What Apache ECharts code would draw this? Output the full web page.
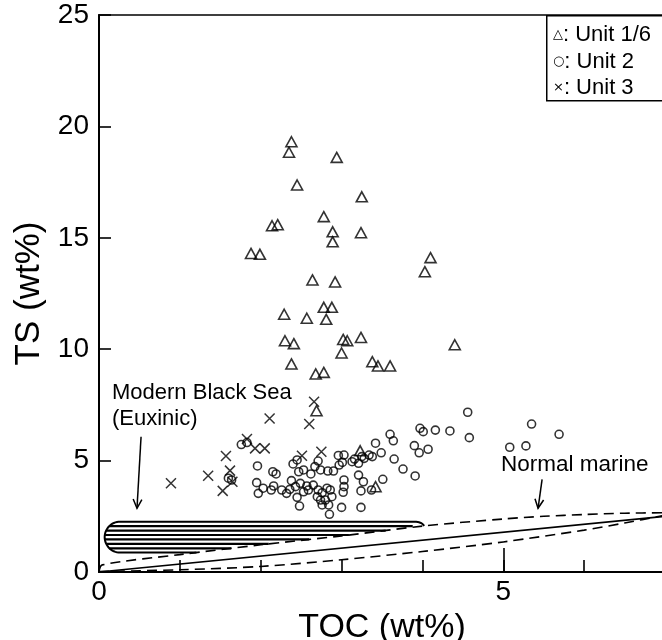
<!DOCTYPE html>
<html><head><meta charset="utf-8">
<script src="https://cdn.jsdelivr.net/npm/echarts@6/dist/echarts.min.js"></script>
<style>html,body{margin:0;padding:0;background:#fff}#c{width:662px;height:640px}</style>
</head><body><div id="c"></div>
<script>
// ---- data (TOC wt%, TS wt%) ----
const unit16 = [[2.38,19.31],[2.35,18.84],[2.94,18.61],[2.45,17.37],[3.25,16.84],[2.78,15.95],[2.14,15.54],[2.21,15.59],[2.89,15.27],[2.89,14.82],[3.24,15.23],[1.88,14.30],[1.99,14.26],[4.10,14.11],[4.03,13.48],[2.64,13.11],[2.92,13.02],[2.78,11.88],[2.88,11.88],[2.29,11.57],[2.57,11.39],[2.81,11.34],[2.30,10.38],[2.41,10.25],[3.02,10.44],[3.07,10.38],[3.24,10.53],[4.40,10.20],[3.00,9.83],[2.38,9.34],[3.38,9.44],[3.45,9.25],[3.60,9.25],[2.68,8.89],[2.78,8.96],[2.69,7.24],[3.23,5.44],[3.42,3.83]];
const unit2 = [[1.60,4.21],[1.64,4.13],[1.76,5.72],[1.83,5.81],[1.96,4.76],[2.15,4.50],[2.19,4.40],[1.95,4.01],[1.97,3.53],[2.03,3.76],[2.13,3.68],[2.16,3.86],[2.26,3.68],[2.32,3.53],[2.36,3.71],[2.38,4.10],[2.43,3.83],[2.45,3.35],[2.40,4.85],[2.45,5.03],[2.47,4.50],[2.53,4.58],[2.62,4.40],[2.67,4.73],[2.71,4.98],[2.74,4.58],[2.83,4.53],[2.90,4.53],[2.96,5.23],[3.01,4.92],[3.03,4.13],[2.49,3.98],[2.57,3.86],[2.59,3.68],[2.65,3.90],[2.71,3.68],[2.76,3.56],[2.82,3.76],[2.86,3.68],[2.88,3.38],[2.80,3.23],[2.74,3.23],[2.70,3.38],[2.84,3.01],[2.76,3.01],[2.48,2.96],[3.00,2.90],[3.03,3.83],[2.85,2.59],[3.24,2.90],[3.60,6.18],[3.64,5.89],[3.97,6.45],[4.01,6.30],[4.16,6.37],[4.34,6.33],[4.56,7.17],[4.58,6.03],[5.35,6.64],[5.69,6.18],[5.08,5.60],[5.28,5.66],[3.42,5.78],[3.90,5.67],[3.96,5.35],[4.07,5.51],[3.49,5.35],[3.65,5.07],[3.76,4.62],[3.91,4.31],[3.51,4.16],[3.38,5.18],[3.34,5.25],[3.28,5.10],[3.25,5.18],[3.16,5.07],[3.21,4.88],[3.03,5.25],[3.21,4.35],[3.27,4.05],[3.24,3.64],[3.37,3.68],[3.02,3.58],[3.13,4.95],[2.97,4.80],[2.53,3.60]];
const unit3 = [[0.89,3.98],[1.35,4.32],[1.57,5.21],[1.62,4.55],[1.53,3.64],[1.65,4.05],[1.83,5.97],[1.93,5.55],[2.05,5.55],[2.11,6.89],[2.51,5.22],[2.75,5.40],[2.66,7.64],[2.60,6.64]];
const csLine = [[0,0],[7,2.5]];
const normalMarineUpper = [[0,0.02],[0.04,0.32],[1,0.78],[2,1.22],[3,1.62],[4,2.06],[5,2.38],[5.5,2.5],[6,2.58],[6.5,2.64],[7,2.66]];
const normalMarineLower = [[0,0.02],[1,0.1],[2,0.25],[3,0.55],[4,0.92],[5,1.35],[6,1.88],[6.5,2.2],[7,2.55]];
// Black Sea field: left TOC, top-right TOC, end TOC on dashed line, bottom TS, top TS
const blackSeaField = [[0.07,3.88,4.02,0.87,2.26]];
const blackSeaStripes = [2.06,1.86,1.66,1.46,1.26,1.06];
const arrows = [[0.52,6.07,0.47,2.86],[5.48,4.16,5.43,2.86]];
const xLabels = [0,5];
const legendItems = ['{s|△}: Unit 1/6','{s|○}: Unit 2','{s|×}: Unit 3'];

const FONT = '"Liberation Sans", Arial, Helvetica, sans-serif';
function invUpper(level){
  const a = normalMarineUpper;
  for (let i=0;i<a.length-1;i++){
    if (level>=a[i][1] && level<=a[i+1][1]) return a[i][0] + (level-a[i][1])/(a[i+1][1]-a[i][1])*(a[i+1][0]-a[i][0]);
  }
  return a[a.length-1][0];
}
function upperAt(x){
  const a = normalMarineUpper;
  for (let i=0;i<a.length-1;i++){
    if (x>=a[i][0] && x<=a[i+1][0]) return a[i][1] + (x-a[i][0])/(a[i+1][0]-a[i][0])*(a[i+1][1]-a[i][1]);
  }
  return a[a.length-1][1];
}
function renderBlackSea(params, api){
  const left=api.value(0), rTop=api.value(1), xEnd=api.value(2), bot=api.value(3), top=api.value(4);
  const pT = api.coord([left, top]), pB = api.coord([left, bot]);
  const r = (pB[1]-pT[1])/2;
  const cx = pT[0] + r, cy = (pT[1]+pB[1])/2;
  const pts = [];
  pts.push(api.coord([invUpper(bot), bot]));
  for (let i=0;i<=30;i++){ const a = Math.PI/2 + Math.PI*i/30; pts.push([cx + r*Math.cos(a), cy + r*Math.sin(a)]); }
  const p1 = api.coord([rTop, top]);
  pts.push(p1);
  const p2 = api.coord([xEnd, upperAt(xEnd)]);
  const c = [p2[0]-2, p1[1]];
  for (let i=1;i<=10;i++){ const t=i/10; pts.push([(1-t)*(1-t)*p1[0]+2*(1-t)*t*c[0]+t*t*p2[0], (1-t)*(1-t)*p1[1]+2*(1-t)*t*c[1]+t*t*p2[1]]); }
  const children = [{type:'polyline', shape:{points:pts}, style:{stroke:'#000', lineWidth:2, fill:null}}];
  blackSeaStripes.forEach(L=>{
    const y = api.coord([0, L])[1];
    const dy = y - cy;
    const xs = cx - Math.sqrt(Math.max(0, r*r - dy*dy));
    const xe = Math.min(api.coord([invUpper(L), L])[0], p1[0]);
    children.push({type:'line', shape:{x1:xs, y1:y, x2:xe, y2:y}, style:{stroke:'#000', lineWidth:2.2}});
  });
  return {type:'group', children};
}
function renderArrow(params, api){
  const a = api.coord([api.value(0), api.value(1)]);
  const b = api.coord([api.value(2), api.value(3)]);
  const ang = Math.atan2(b[1]-a[1], b[0]-a[0]);
  const L = 10, w = 0.45;
  const h1 = [b[0]-L*Math.cos(ang-w), b[1]-L*Math.sin(ang-w)];
  const h2 = [b[0]-L*Math.cos(ang+w), b[1]-L*Math.sin(ang+w)];
  return {type:'group', children:[
    {type:'line', shape:{x1:a[0],y1:a[1],x2:b[0],y2:b[1]}, style:{stroke:'#000', lineWidth:1.5}},
    {type:'polyline', shape:{points:[h1,b,h2]}, style:{stroke:'#000', lineWidth:1.5, fill:null}}
  ]};
}

const chart = echarts.init(document.getElementById('c'), null, {renderer:'canvas'});
const markerStyle = {color:'rgba(0,0,0,0)', borderColor:'#000', borderWidth:1.6};
chart.setOption({
  animation:false,
  backgroundColor:'#fff',
  grid:{left:99, top:15, width:566, height:557, outerBoundsMode:'none', containLabel:false, show:true, borderColor:'#000', borderWidth:1.5, backgroundColor:'transparent'},
  xAxis:[{
    type:'value', min:0, max:7, interval:1,
    name:'TOC (wt%)', nameLocation:'middle', nameGap:29,
    nameTextStyle:{fontSize:34, color:'#000', fontFamily:FONT},
    axisLine:{lineStyle:{color:'#000', width:2}},
    axisTick:{inside:true, length:12, lineStyle:{color:'#000', width:1.6}},
    axisLabel:{fontSize:28, color:'#000', fontFamily:FONT, margin:6, formatter:v=> xLabels.includes(v)? String(v):''},
    splitLine:{show:false}
  },{
    type:'value', min:0, max:7, interval:5, position:'bottom',
    axisLine:{show:false}, axisLabel:{show:false}, splitLine:{show:false},
    axisTick:{inside:true, length:24, lineStyle:{color:'#000', width:1.6}}
  }],
  yAxis:{
    type:'value', min:0, max:25, interval:5,
    name:'TS (wt%)', nameLocation:'middle', nameGap:51,
    nameTextStyle:{fontSize:35, color:'#000', fontFamily:FONT},
    axisLine:{lineStyle:{color:'#000', width:2}},
    axisTick:{inside:true, length:12, lineStyle:{color:'#000', width:1.6}},
    axisLabel:{fontSize:28, color:'#000', fontFamily:FONT, margin:10, padding:[8,0,0,0]},
    splitLine:{show:false}
  },
  graphic:[
    {type:'rect', left:546, top:15, shape:{width:130, height:85}, style:{fill:'#fff', stroke:'#000', lineWidth:1.5}, z:100},
    ...legendItems.map((t,i)=>({type:'text', x:553, y:35+i*26.5, z:101,
      style:{text:t, font:'22px '+FONT, fill:'#000', verticalAlign:'middle',
        rich:{s:{fontSize:13, fontFamily:'"DejaVu Sans", sans-serif', fill:'#000'}}}})),
    {type:'text', x:112, y:393, style:{text:'Modern Black Sea', font:'22px '+FONT, fill:'#000', verticalAlign:'middle'}},
    {type:'text', x:112, y:419, style:{text:'(Euxinic)', font:'22px '+FONT, fill:'#000', verticalAlign:'middle'}},
    {type:'text', x:501, y:465, style:{text:'Normal marine', font:'22.5px '+FONT, fill:'#000', verticalAlign:'middle'}}
  ],
  series:[
    {type:'custom', name:'Black Sea', coordinateSystem:'cartesian2d', renderItem:renderBlackSea, data:blackSeaField, encode:{x:[0,1,2], y:[3,4]}, silent:true, z:1},
    {type:'line', data:csLine, symbol:'none', lineStyle:{color:'#000', width:1.6}, silent:true, z:2},
    {type:'line', data:normalMarineUpper, symbol:'none', smooth:0.3, lineStyle:{color:'#000', width:1.6, type:[10,6]}, silent:true, z:2},
    {type:'line', data:normalMarineLower, symbol:'none', smooth:0.3, lineStyle:{color:'#000', width:1.6, type:[10,6]}, silent:true, z:2},
    {type:'custom', coordinateSystem:'cartesian2d', renderItem:renderArrow, data:arrows, encode:{x:[0,2], y:[1,3]}, silent:true, z:3},
    {type:'scatter', name:'Unit 1/6', data:unit16, symbol:'triangle', symbolSize:[11,10], itemStyle:markerStyle, z:5},
    {type:'scatter', name:'Unit 2', data:unit2, symbol:'circle', symbolSize:8, itemStyle:markerStyle, z:5},
    {type:'scatter', name:'Unit 3', data:unit3, symbol:'path://M0,0L10,10M10,0L0,10', symbolSize:10, itemStyle:{color:'rgba(0,0,0,0)', borderColor:'#000', borderWidth:1.5}, z:5}
  ]
});
</script></body></html>
